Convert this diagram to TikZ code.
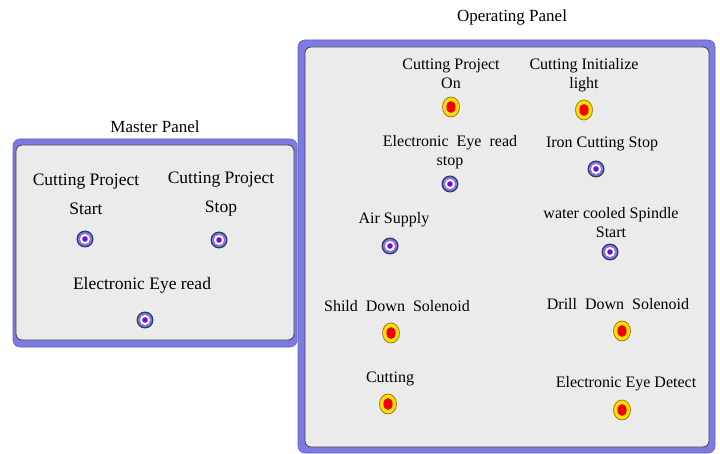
\documentclass[tikz,border=0pt]{standalone}
\usepackage{fontspec}
\setmainfont{Liberation Serif}
\definecolor{frameblue}{HTML}{7B7BE3}
\definecolor{panelgray}{HTML}{EBEBEB}
\definecolor{rimdark}{HTML}{3A3A6A}
\definecolor{dotpurple}{HTML}{7A00FF}
\definecolor{lampyellow}{HTML}{FFE000}
\definecolor{lamprim}{HTML}{A07A10}
\definecolor{lampred}{HTML}{F00000}
\begin{document}
\begin{tikzpicture}[x=1pt,y=-1pt,
  frame/.style={fill=frameblue,draw=frameblue!80!black,line width=0.6pt,rounded corners=7pt},
  face/.style={fill=panelgray,draw=black!75,line width=0.8pt,rounded corners=6pt},
  title/.style={font=\fontsize{17}{20}\selectfont},
  mlabel/.style={align=center,inner sep=0pt,font=\fontsize{17.5}{29}\selectfont},
  olabel/.style={align=center,inner sep=0pt,font=\fontsize{16}{19}\selectfont},
  pbtn/.pic={
    \fill[rimdark] (0,0) circle (8.5);
    \fill[frameblue] (0,0) circle (7);
    \fill[white] (0,0) circle (5);
    \fill[dotpurple] (0,0) circle (2.8);
  },
  lamp/.pic={
    \draw[fill=lampyellow,draw=lamprim,line width=0.8pt] (0,0) ellipse (8.5 and 10);
    \fill[lampred] (0,0) ellipse (4.6 and 6);
  }]
\useasboundingbox (0,0) rectangle (720,454);

% ---------- Master panel ----------
\node[title] (mtitle) at (155,127) {Master Panel};
\draw[frame] (13,139) rectangle (297,347);
\draw[face] (16,145) rectangle (294,340);

\node[mlabel] (mstart) at (86,194) {Cutting Project\\Start};
\pic (mstartbtn) at (85,239) {pbtn};
\node[mlabel] (mstop) at (221,194) {Cutting Project\\Stop};
\pic (mstopbtn) at (219,240) {pbtn};
\node[mlabel] (meye) at (142,285) {Electronic Eye read};
\pic (meyebtn) at (145,320) {pbtn};

% ---------- Operating panel ----------
\node[title] (otitle) at (512,17) {Operating Panel};
\draw[frame] (298,40) rectangle (715,453);
\draw[face] (305,47) rectangle (709,447);

\node[olabel] (oon) at (451,74) {Cutting Project\\On};
\pic (oonlamp) at (451,107) {lamp};
\node[olabel] (oinit) at (584,75) {Cutting Initialize\\light};
\pic (oinitlamp) at (584,110) {lamp};

\node[olabel] (oeye) at (450,152) {Electronic~~Eye~~read\\stop};
\pic (oeyebtn) at (450,184) {pbtn};
\node[olabel] (oiron) at (602,144) {Iron Cutting Stop};
\pic (oironbtn) at (596,169) {pbtn};

\node[olabel] (oair) at (394,220) {Air Supply};
\pic (oairbtn) at (390,246) {pbtn};
\node[olabel] (ospin) at (611,223) {water~cooled Spindle\\Start};
\pic (ospinbtn) at (610,252) {pbtn};

\node[olabel] (oshild) at (397,306) {Shild~~Down~~Solenoid};
\pic (oshildlamp) at (391,333) {lamp};
\node[olabel] (odrill) at (618,304) {Drill~~Down~~Solenoid};
\pic (odrilllamp) at (622,331) {lamp};

\node[olabel] (ocut) at (390,379) {Cutting};
\pic (ocutlamp) at (388,404) {lamp};
\node[olabel] (odetect) at (626,384) {Electronic Eye Detect};
\pic (odetectlamp) at (622,410) {lamp};
\end{tikzpicture}
\end{document}
